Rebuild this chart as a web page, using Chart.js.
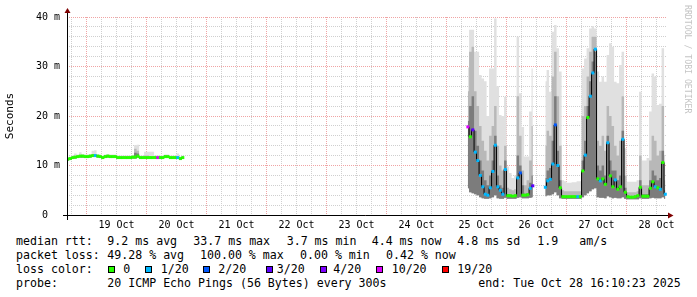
<!DOCTYPE html>
<html>
<head>
<meta charset="utf-8">
<script src="https://cdn.jsdelivr.net/npm/chart.js@4.4.1/dist/chart.umd.min.js"></script>
<style>
  html, body { margin: 0; padding: 0; background: #fff; }
  #wrap { position: relative; width: 697px; height: 297px; overflow: hidden; background: #fff; }
  #chart { position: absolute; left: 0; top: 0; }
  .t { position: absolute; font-family: "DejaVu Sans Mono", monospace; font-size: 11.6px; line-height: 14px; white-space: pre; color: #000; }
  .sq { position: absolute; top: 266px; width: 5px; height: 5px; border: 1px solid #000; }
</style>
</head>
<body>
<div id="wrap">
  <canvas id="chart" width="697" height="232"></canvas>

  <div class="t" style="left:16px;top:233.7px">median rtt:</div>
  <div class="t" style="left:107.3px;top:233.7px">9.2 ms avg</div>
  <div class="t" style="left:193.3px;top:233.7px">33.7 ms max</div>
  <div class="t" style="left:286.7px;top:233.7px">3.7 ms min</div>
  <div class="t" style="left:371.7px;top:233.7px">4.4 ms now</div>
  <div class="t" style="left:457.3px;top:233.7px">4.8 ms sd</div>
  <div class="t" style="left:537.3px;top:233.7px">1.9</div>
  <div class="t" style="left:579.3px;top:233.7px">am/s</div>

  <div class="t" style="left:16px;top:247.8px">packet loss:</div>
  <div class="t" style="left:107.3px;top:247.8px">49.28 % avg</div>
  <div class="t" style="left:200px;top:247.8px">100.00 % max</div>
  <div class="t" style="left:300px;top:247.8px">0.00 % min</div>
  <div class="t" style="left:386px;top:247.8px">0.42 % now</div>

  <div class="t" style="left:16px;top:261.8px">loss color:</div>
  <div class="sq" style="left:108px;background:#26ff00"></div>
  <div class="t" style="left:123.3px;top:261.8px">0</div>
  <div class="sq" style="left:145px;background:#00b8ff"></div>
  <div class="t" style="left:160.7px;top:261.8px">1/20</div>
  <div class="sq" style="left:203px;background:#0059ff"></div>
  <div class="t" style="left:218.3px;top:261.8px">2/20</div>
  <div class="sq" style="left:266px;background:#5e00ff"></div>
  <div class="t" style="left:276.7px;top:261.8px">3/20</div>
  <div class="sq" style="left:320px;background:#7e00ff"></div>
  <div class="t" style="left:333.3px;top:261.8px">4/20</div>
  <div class="sq" style="left:376px;background:#dd00ff"></div>
  <div class="t" style="left:391.7px;top:261.8px">10/20</div>
  <div class="sq" style="left:442px;background:#ff0000"></div>
  <div class="t" style="left:457.3px;top:261.8px">19/20</div>

  <div class="t" style="left:16px;top:276px">probe:</div>
  <div class="t" style="left:107.3px;top:276px">20 ICMP Echo Pings (56 Bytes) every 300s</div>
  <div class="t" style="left:478.3px;top:276px">end: Tue Oct 28 16:10:23 2025</div>
</div>

<script>
// time axis in hours since 18 Oct 00:00
const startHour = 16.17;
const endHour = 256.17;
// two recorded stretches, one value per hour
const firstHourA = 16.5;
const firstHourB = 176.5;
const gapHour = 120;

// stretch A: 18 Oct 16:00 .. 20 Oct 14:00
const medianA = [
  11.3, 11.4, 11.6, 11.7, 11.8, 11.9, 11.9, 11.8, 11.8, 11.9,
  12.0, 12.0, 11.9, 11.8, 11.6, 11.8, 11.9, 11.8, 11.8, 11.8,
  11.6, 11.6, 11.6, 11.6, 11.6, 11.6, 11.7, 11.7, 11.9, 11.6,
  11.6, 11.6, 11.6, 11.6, 11.6, 11.6, 11.6, 11.6, 11.6, 11.8,
  11.8, 11.6, 11.6, 11.6, 11.6, 11.4, 11.6
];
const lossA = [
  0, 0, 0, 0, 0, 0, 0, 0, 0, 0,
  0, 1, 0, 0, 0, 0, 0, 0, 0, 0,
  0, 0, 0, 0, 0, 0, 0, 0, 0, 0,
  0, 0, 0, 0, 0, 0, 10, 0, 0, 0,
  0, 0, 0, 0, 1, 0, 0
];
const minA = [
  11.0, 11.1, 11.3, 11.4, 11.5, 11.6, 11.6, 11.5, 11.5, 11.6,
  11.7, 11.7, 11.6, 11.5, 11.3, 11.5, 11.6, 11.5, 11.5, 11.5,
  11.3, 11.3, 11.3, 11.3, 11.3, 11.3, 11.4, 11.4, 11.6, 11.3,
  11.3, 11.3, 11.3, 11.3, 11.3, 11.3, 11.3, 11.3, 11.3, 11.5,
  11.5, 11.3, 11.3, 11.3, 11.3, 11.1, 11.3
];
const midA = [
  11.4, 11.5, 11.7, 11.8, 11.9, 12.0, 12.0, 11.9, 11.9, 12.0,
  12.1, 12.1, 12.0, 11.9, 11.7, 11.9, 12.0, 11.9, 11.9, 11.9,
  11.7, 11.7, 11.7, 11.7, 11.7, 11.7, 11.8, 12.6, 12.4, 11.7,
  11.7, 11.7, 11.7, 11.7, 11.7, 11.7, 11.7, 11.7, 11.7, 11.9,
  11.9, 11.7, 11.7, 11.7, 11.7, 11.5, 11.7
];
const highA = [
  11.5, 11.6, 11.8, 11.9, 12.0, 12.1, 12.1, 12.0, 12.0, 12.1,
  12.2, 12.3, 12.1, 12.0, 11.8, 12.0, 12.1, 12.0, 12.0, 12.0,
  11.8, 11.8, 11.8, 11.8, 11.8, 11.8, 11.9, 13.4, 13.0, 11.8,
  11.8, 12.0, 12.0, 11.9, 11.8, 11.8, 11.8, 11.8, 11.8, 12.0,
  12.0, 11.8, 11.8, 11.8, 11.9, 11.6, 11.8
];
const maxA = [
  11.7, 11.8, 12.0, 12.4, 12.2, 12.7, 12.3, 12.2, 12.2, 12.3,
  13.0, 13.1, 12.3, 12.2, 12.0, 12.2, 12.3, 12.2, 12.2, 12.2,
  12.0, 12.0, 12.0, 12.0, 12.0, 12.0, 12.1, 14.1, 14.2, 12.0,
  12.0, 12.8, 12.8, 12.8, 12.8, 12.0, 12.0, 12.0, 12.0, 12.2,
  12.2, 12.0, 12.0, 12.0, 12.4, 11.8, 12.0
];

// stretch B: 25 Oct 08:00 .. 28 Oct 16:00
const medianB = [
  17.8, 15.8, 17.2, 12.7, 11.0, 8.0, 5.7, 4.2, 4.0, 5.5,
  8.8, 14.1, 5.7, 5.0, 4.2, 9.2, 3.9, 3.9, 3.8, 3.9,
  7.5, 8.5, 4.0, 4.0, 4.1, 5.4, 5.9, null, null, null,
  null, 5.6, 6.9, 7.2, 10.3, 18.2, 10.0, 5.5, 3.7, 3.7,
  3.7, 3.7, 3.7, 3.7, 3.7, 3.7, 8.9, 12.1, 19.7, 24.0,
  28.7, 33.5, 7.3, 6.9, 7.3, 6.2, 14.6, 7.9, 5.7, 7.1,
  5.2, 5.7, 15.3, 4.6, 3.7, 3.6, 3.6, 3.7, 3.9, 5.6,
  3.8, 3.8, 3.8, 5.4, 6.7, 5.7, 5.5, 5.2, 10.6, 4.2
];
const lossB = [
  10, 0, 3, 1, 1, 1, 1, 1, 1, 1,
  1, 1, 1, 1, 1, 1, 0, 0, 0, 0,
  1, 2, 0, 0, 0, 1, 3, null, null, null,
  null, 1, 1, 1, 1, 2, 1, 0, 0, 0,
  0, 0, 0, 0, 1, 0, 0, 1, 0, 1,
  1, 1, 0, 1, 0, 0, 1, 0, 0, 1,
  0, 0, 1, 0, 0, 0, 0, 0, 0, 0,
  0, 0, 0, 0, 0, 1, 0, 1, 0, 1
];
const minB = [
  5.4, 4.6, 4.4, 4.2, 4.0, 3.6, 3.4, 3.3, 3.3, 3.4,
  3.6, 4.0, 3.4, 3.3, 3.3, 3.5, 3.3, 3.3, 3.3, 3.3,
  3.5, 3.6, 3.4, 3.4, 3.4, 3.5, 3.6, null, null, null,
  null, 3.8, 4.0, 4.0, 4.2, 4.6, 4.0, 3.4, 3.3, 3.3,
  3.3, 3.3, 3.3, 3.3, 3.3, 3.3, 3.6, 4.0, 4.4, 4.8,
  5.2, 5.4, 3.6, 3.5, 3.5, 3.4, 3.8, 3.6, 3.4, 3.5,
  3.4, 3.4, 3.6, 3.3, 3.2, 3.2, 3.2, 3.2, 3.2, 3.4,
  3.3, 3.3, 3.3, 3.4, 3.5, 3.4, 3.4, 3.4, 3.6, 3.3
];
const midB = [
  19, 22, 24, 17, 14, 11, 9, 7, 6, 8,
  11, 16, 8, 6, 5.5, 11, 4.2, 4.1, 4.0, 4.1,
  12, 10, 6, 4.3, 4.4, 6.5, 8, null, null, null,
  null, 7.5, 9, 9.5, 15, 24, 13, 7, 4.0, 3.9,
  3.9, 3.9, 3.9, 3.9, 3.9, 3.9, 11, 15, 22, 27,
  31, 33, 10, 9, 10, 8, 16, 11, 9, 9,
  7, 8, 17, 5.5, 3.9, 3.8, 3.8, 3.9, 4.0, 7,
  4.2, 4.2, 4.2, 7, 9, 8, 7, 7.5, 13, 5
];
const highB = [
  25, 33, 34, 25, 22, 18, 15, 13, 11, 16,
  18, 22, 14, 10, 9, 14, 5.5, 5.2, 5.0, 5.2,
  24, 16, 9, 6, 7, 11, 18, null, null, null,
  null, 14, 17, 16, 28, 33, 24, 14, 5.0, 4.8,
  4.8, 4.8, 4.8, 4.8, 4.8, 4.8, 20, 22, 28, 33,
  36, 36, 15, 14, 16, 13, 22, 20, 18, 14,
  12, 15, 24, 8, 4.6, 4.6, 4.6, 4.6, 4.8, 12,
  6, 6, 6, 11, 16, 15, 12, 13, 22, 7
];
const maxB = [
  29.8, 37.4, 37.4, 33.0, 33.0, 28.3, 27.6, 27.0, 20.0, 29.6,
  29.6, 39.7, 26.0, 20.2, 20.0, 23.9, 9.8, 8.5, 7.5, 8.0,
  36.0, 24.6, 17.8, 11.8, 11.8, 20.9, 29.6, null, null, null,
  null, 27.0, 29.3, 24.9, 37.0, 38.4, 33.7, 29.0, 7.0, 6.8,
  6.5, 6.5, 6.6, 6.6, 6.8, 6.8, 29.6, 31.6, 33.7, 37.7,
  38.2, 37.7, 29.0, 26.9, 28.0, 26.9, 32.3, 34.7, 34.0, 26.9,
  26.6, 30.3, 33.0, 13.5, 6.7, 6.7, 6.7, 6.7, 7.0, 24.9,
  11.0, 11.0, 11.5, 20.9, 28.6, 28.0, 22.2, 22.5, 33.7, 12.1
];

const lossColors = { 0: "#26ff00", 1: "#00b8ff", 2: "#0059ff", 3: "#5e00ff", 4: "#7e00ff", 10: "#dd00ff", 19: "#ff0000" };
const majorGrid = "#f0a4a4";
const minorGrid = "#cfcfcf";

const toPoints = (a, b) => [
  ...a.map((v, i) => ({ x: firstHourA + i, y: v })),
  { x: gapHour, y: null },
  ...b.map((v, i) => ({ x: firstHourB + i, y: v })),
];
const lossAll = [...lossA, null, ...lossB];

const band = (data, color) => ({
  data: data,
  stepped: "middle",
  borderWidth: 0,
  pointRadius: 0,
  backgroundColor: color,
  fill: { target: 5 },
});

//draws the rrdtool style axes, arrows and watermark
const rrdFrame = {
  id: "rrdFrame",
  afterDatasetsDraw(chart) {
    const { ctx, chartArea: a } = chart;
    ctx.save();
    ctx.strokeStyle = "#000";
    ctx.lineWidth = 1;
    ctx.beginPath();
    ctx.moveTo(a.left - 4, a.bottom + 0.5);
    ctx.lineTo(a.right + 1, a.bottom + 0.5);
    ctx.moveTo(a.left + 0.5, a.bottom + 5);
    ctx.lineTo(a.left + 0.5, a.top - 4);
    ctx.stroke();

    ctx.fillStyle = "#7f0000";
    ctx.beginPath();
    ctx.moveTo(a.left - 2.5, a.top - 4);
    ctx.lineTo(a.left + 3.5, a.top - 4);
    ctx.lineTo(a.left + 0.5, a.top - 9);
    ctx.closePath();
    ctx.fill();
    ctx.beginPath();
    ctx.moveTo(a.right + 1, a.bottom - 2.5);
    ctx.lineTo(a.right + 1, a.bottom + 3.5);
    ctx.lineTo(a.right + 6.5, a.bottom + 0.5);
    ctx.closePath();
    ctx.fill();

    ctx.translate(685, 5);
    ctx.rotate(Math.PI / 2);
    ctx.font = '8.2px "DejaVu Sans Mono"';
    ctx.fillStyle = "#c4c4c4";
    ctx.textBaseline = "alphabetic";
    ctx.fillText("RRDTOOL / TOBI OETIKER", 0, 0);
    ctx.restore();
  },
};

Chart.defaults.font.family = '"DejaVu Sans Mono"';
Chart.defaults.color = "#000";

const ctx = document.getElementById("chart").getContext("2d");

let chart = new Chart(ctx, {
  type: "line",
  data: {
    datasets: [
      {
        // median, coloured by packet loss
        data: toPoints(medianA, medianB),
        showLine: false,
        pointStyle: "rect",
        pointRadius: 2.1,
        pointBorderWidth: 0,
        pointBackgroundColor: (c) => lossColors[lossAll[c.dataIndex]] || "rgba(0,0,0,0)",
      },
      {
        data: toPoints(medianA, medianB),
        stepped: "middle",
        borderColor: "#000",
        borderWidth: 1,
        pointRadius: 0,
        fill: false,
      },
      band(toPoints(midA, midB), "#7c7c7c"),
      band(toPoints(highA, highB), "#b8b8b8"),
      band(toPoints(maxA, maxB), "#e0e0e0"),
      {
        data: toPoints(minA, minB),
        stepped: "middle",
        borderWidth: 0,
        pointRadius: 0,
        fill: false,
      },
    ],
  },
  options: {
    responsive: false,
    animation: false,
    layout: { padding: { top: 17, right: 30, left: 0, bottom: 0 } },
    plugins: {
      legend: { display: false },
      tooltip: { enabled: false },
    },
    scales: {
      x: {
        type: "linear",
        min: startHour,
        max: endHour,
        afterFit: (s) => { s.height = 17; },
        afterBuildTicks: (s) => {
          const ticks = [];
          for (let h = 18; h < endHour; h += 6) ticks.push({ value: h });
          s.ticks = ticks;
        },
        grid: {
          drawTicks: false,
          lineWidth: 1,
          color: (c) => (c.tick && c.tick.value % 24 === 0 ? majorGrid : minorGrid),
        },
        border: { display: false, dash: [1, 1] },
        ticks: {
          autoSkip: false,
          maxRotation: 0,
          padding: 4,
          font: { size: 10 },
          callback: (v) => (v % 24 === 12 ? (v - 12) / 24 + 18 + " Oct" : ""),
        },
      },
      y: {
        min: 0,
        max: 40,
        afterFit: (s) => { s.width = 67; },
        grid: {
          drawTicks: false,
          lineWidth: 1,
          color: (c) => (c.tick && c.tick.value % 10 === 0 ? majorGrid : minorGrid),
        },
        border: { display: false, dash: [1, 1] },
        ticks: {
          stepSize: 2,
          autoSkip: false,
          padding: 7,
          font: { size: 10 },
          callback: (v) => (v % 10 === 0 ? (v === 0 ? "0  " : v + " m") : ""),
        },
        title: {
          display: true,
          text: "Seconds",
          font: { size: 11 },
          padding: { top: 4, bottom: 4 },
        },
      },
    },
  },
  plugins: [rrdFrame],
});
</script>
</body>
</html>
